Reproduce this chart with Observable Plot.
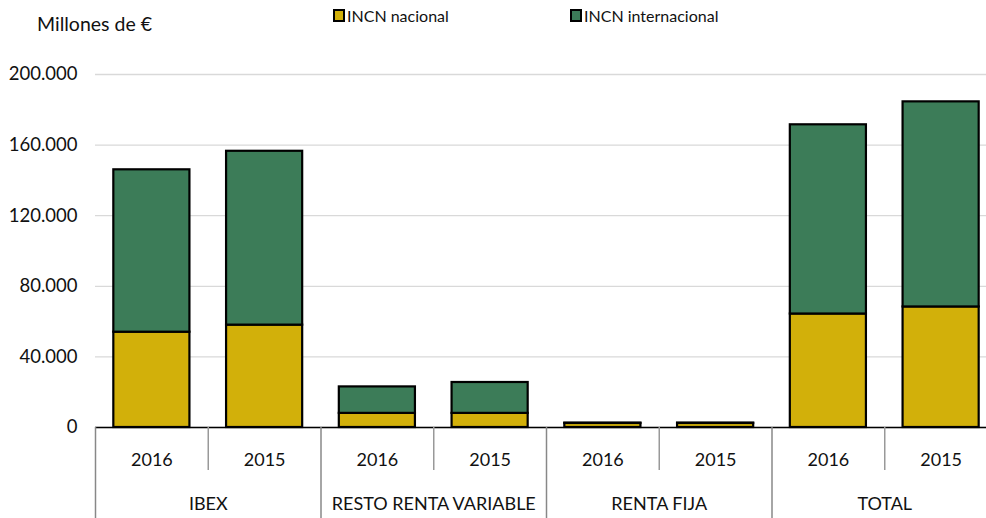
<!DOCTYPE html>
<html><head><meta charset="utf-8">
<script src="https://cdn.jsdelivr.net/npm/d3@7"></script>
<script src="https://cdn.jsdelivr.net/npm/@observablehq/plot@0.6"></script>
<style>
body{margin:0;background:#fff;font-family:Lato,"Noto Sans",sans-serif;color:#111}
#wrap{position:relative;width:986px;height:518px;overflow:hidden}
#unit{position:absolute;left:37px;top:12px;font-size:19.5px}
#legend{position:absolute;top:6px;left:0;font-size:16px}
.item{position:absolute;white-space:nowrap;display:flex;align-items:center}
.sw{display:inline-block;width:8px;height:9px;border:2px solid #000;margin-right:2px}
#chart{position:absolute;left:0;top:0}
</style>
</head><body>
<div id="wrap"><div id="chart"></div><div id="unit">Millones de €</div><div id="legend"></div></div>
<script>
const groups = ["IBEX", "RESTO RENTA VARIABLE", "RENTA FIJA", "TOTAL"];
const years = ["2016", "2015"];
const series = ["INCN nacional", "INCN internacional"];
const nacional = [54000, 58000, 8000, 8000, 2300, 2300, 64300, 68300];
const internacional = [92000, 98500, 15000, 17500, 200, 200, 107200, 116200];
const yTicks = [0, 40000, 80000, 120000, 160000, 200000];
const colors = ["#D2B00A", "#3C7C58"];

const W = 986, H = 518, mL = 95, mR = -11, mT = 74, mB = 91;
const step = (W - mL - mR) / (groups.length * years.length);

const rows = [];
groups.forEach((g, gi) => years.forEach((y, yi) => {
  const i = gi * years.length + yi;
  rows.push({key: g + "|" + y, group: g, year: y, yi, nac: nacional[i], int: internacional[i]});
}));
const keys = rows.map(r => r.key);
const stacked = rows.flatMap(r => [
  {key: r.key, serie: series[0], value: r.nac},
  {key: r.key, serie: series[1], value: r.int}
]);
const fmt = d3.formatLocale({decimal: ",", thousands: ".", grouping: [3], currency: ["", "€"]}).format(",d");

const firstOfGroup = rows.filter(r => r.yi === 0);
const secondOfGroup = rows.filter(r => r.yi === 1);

const chart = Plot.plot({
  width: W, height: H, marginTop: mT, marginBottom: mB, marginLeft: mL, marginRight: mR,
  style: {fontFamily: "Lato, 'Noto Sans', sans-serif", background: "transparent", color: "#111", overflow: "hidden"},
  x: {domain: keys, paddingInner: 0.325, paddingOuter: 0.1625, round: false, axis: null},
  y: {domain: [0, 200000], axis: null},
  color: {domain: series, range: colors},
  marks: [
    Plot.gridY(yTicks, {stroke: "#d9d9d9", strokeOpacity: 1, strokeWidth: 1.3}),
    Plot.axisY(yTicks, {tickSize: 0, tickPadding: 18, tickFormat: fmt, fontSize: 18.5, label: null}),
    Plot.barY(stacked, {x: "key", y: "value", fill: "serie", stroke: "#000", strokeWidth: 2.2}),
    Plot.ruleY([0], {stroke: "#000", strokeWidth: 1.3}),
    Plot.ruleX(secondOfGroup, {x: "key", y1: 0, y2: 0, dx: -step / 2, insetBottom: -43, stroke: "#999", strokeWidth: 1.5}),
    Plot.ruleX(firstOfGroup, {x: "key", y1: 0, y2: 0, dx: -step / 2, insetBottom: -91, stroke: "#888", strokeWidth: 1.5}),
    Plot.text(rows, {x: "key", y: 0, text: "year", dy: 33, fontSize: 18}),
    Plot.text(secondOfGroup, {x: "key", y: 0, text: "group", dx: -step / 2, dy: 77, fontSize: 18})
  ]
});
document.getElementById("chart").appendChild(chart);

const legend = document.getElementById("legend");
const legX = [333, 570];
series.forEach((s, i) => {
  const it = document.createElement("div");
  it.className = "item";
  it.style.left = legX[i] + "px";
  it.innerHTML = `<span class="sw" style="background:${colors[i]}"></span>${s}`;
  legend.appendChild(it);
});
</script>
</body></html>
